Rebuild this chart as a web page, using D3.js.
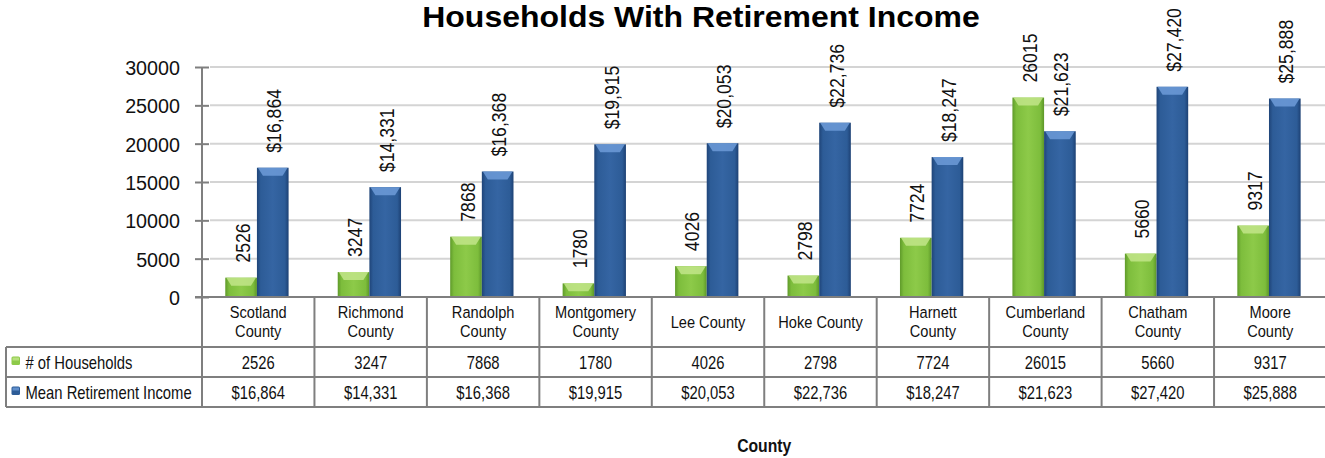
<!DOCTYPE html>
<html><head><meta charset="utf-8">
<script src="https://cdn.jsdelivr.net/npm/d3@7"></script>
<style>
html,body{margin:0;padding:0;background:#fff;}
svg{display:block;font-family:"Liberation Sans",Arial,sans-serif;}
</style></head>
<body><svg id="chart" width="1325" height="458"></svg>
<script>
const categories = ["Scotland County","Richmond County","Randolph County","Montgomery County","Lee County","Hoke County","Harnett County","Cumberland County","Chatham County","Moore County"];
const households = [2526,3247,7868,1780,4026,2798,7724,26015,5660,9317];
const meanIncome = [16864,14331,16368,19915,20053,22736,18247,21623,27420,25888];
const seriesNames = ["# of Households","Mean Retirement Income"];
const yTicks = [0,5000,10000,15000,20000,25000,30000];
const titleText = "Households With Retirement Income";
const axisTitle = "County";

const svg = d3.select("#chart");
const W = 1325, H = 458;
const pL = 202, pR = 1326.5, pT = 67, base = 297;
const rowH = [347, 377, 407];
const TS = 0.8; // horizontal condensing for table text

const defs = svg.append("defs");
function grad(id, stops){
  const g = defs.append("linearGradient").attr("id", id).attr("x1","0").attr("x2","1").attr("y1","0").attr("y2","0");
  stops.forEach(s=>g.append("stop").attr("offset",s[0]).attr("stop-color",s[1]));
}
grad("gGreen", [[0,"#5f9a2a"],[0.12,"#7dbd3c"],[0.5,"#8dca49"],[0.88,"#7dbd3c"],[1,"#5c9628"]]);
grad("gBlue", [[0,"#1f4478"],[0.12,"#2d5c97"],[0.5,"#3565a3"],[0.88,"#2d5c97"],[1,"#1d4174"]]);
const colors = {h:"url(#gGreen)", m:"url(#gBlue)"};
const capColors = {h:"#c2e58a", m:"#6d9bd8"};

const x = d3.scaleBand().domain(categories).range([pL, pR]).padding(0);
const bw = x.bandwidth();
const x1 = d3.scaleBand().domain(["h","m"]).range([bw*0.207, bw*0.77]).padding(0);
const y = d3.scaleLinear().domain([0,30000]).range([base, pT]);

// Title
svg.append("text").attr("transform","translate(701,27.3) scale(1.066,1)").attr("text-anchor","middle")
  .attr("font-size", 30).attr("font-weight","bold").attr("fill","#000").text(titleText);

// gridlines
svg.append("g").selectAll("line").data(yTicks.filter(d=>d>0)).join("line")
  .attr("x1", pL+8).attr("x2", W).attr("y1", d=>y(d)).attr("y2", d=>y(d))
  .attr("stroke","#d4d4d4").attr("stroke-width",2);

// y axis
const yAxis = d3.axisLeft(y).tickValues(yTicks).tickSize(7).tickPadding(14).tickFormat(d3.format("d"));
const ga = svg.append("g").attr("transform",`translate(${pL},0)`).call(yAxis);
ga.select(".domain").remove();
ga.selectAll(".tick line").attr("stroke","#7f7f7f").attr("stroke-width",2).attr("x2",-7).attr("x1",7);
ga.selectAll(".tick text").attr("font-size",21).attr("fill","#111").attr("font-family","inherit")
  .attr("x",0).attr("dy",null).attr("transform","translate(-22,7.5) scale(0.94,1)");
svg.append("line").attr("x1",pL).attr("x2",pL).attr("y1",pT).attr("y2",rowH[2])
  .attr("stroke","#7f7f7f").attr("stroke-width",2);

// bars
const data = categories.map((c,i)=>({c, h:households[i], m:meanIncome[i]}));
const groups = svg.append("g").selectAll("g").data(data).join("g")
  .attr("transform", d=>`translate(${x(d.c)},0)`);
["h","m"].forEach(k=>{
  const bx = x1(k), w = x1.bandwidth();
  groups.append("rect").attr("x", bx).attr("width", w)
    .attr("y", d=>y(d[k])).attr("height", d=>base - y(d[k]))
    .attr("fill", colors[k]);
  groups.append("path").attr("fill", capColors[k]).attr("opacity",0.85)
    .attr("d", d=>{ const t=y(d[k]); return `M${bx+1},${t} L${bx+w-1},${t} L${bx+w-6},${t+8} L${bx+6},${t+8} Z`; });
  groups.append("text")
    .attr("transform", d=>`translate(${bx + w/2 + 8.5},${y(d[k]) - 15}) rotate(-90) scale(0.84,1)`)
    .attr("font-size", 21).attr("fill","#111")
    .text(d=> k==="h" ? d3.format("d")(d[k]) : "$" + d3.format(",")(d[k]));
});

// zero line
svg.append("line").attr("x1",pL-7).attr("x2",W).attr("y1",base).attr("y2",base)
  .attr("stroke","#7f7f7f").attr("stroke-width",2);

// data table
const tg = svg.append("g");
const lineC = "#7f7f7f";
rowH.forEach(yy=>{
  tg.append("line").attr("x1", 6).attr("x2", W).attr("y1", yy).attr("y2", yy).attr("stroke",lineC).attr("stroke-width",2);
});
tg.append("line").attr("x1",6).attr("x2",6).attr("y1",rowH[0]).attr("y2",rowH[2]).attr("stroke",lineC).attr("stroke-width",2);
tg.selectAll(".vl").data(categories.slice(1)).join("line").attr("class","vl")
  .attr("x1", d=>x(d)).attr("x2", d=>x(d)).attr("y1", base).attr("y2", rowH[2])
  .attr("stroke",lineC).attr("stroke-width",2);

// category labels
tg.selectAll(".cat").data(categories).join("text").attr("class","cat")
  .attr("text-anchor","middle").attr("font-size",17).attr("fill","#111")
  .attr("transform", d=>`translate(${x(d)+bw/2},0) scale(0.86,1)`)
  .each(function(d){
    const t = d3.select(this);
    if (d.length > 11) {
      const i = d.lastIndexOf(" ");
      t.append("tspan").attr("x", 0).attr("y", 318).text(d.slice(0,i));
      t.append("tspan").attr("x", 0).attr("y", 337.5).text(d.slice(i+1));
    } else {
      t.append("tspan").attr("x", 0).attr("y", 328.5).text(d);
    }
  });

// rows
const rows = [{k:"h", vals:households, fmt:d3.format("d")},{k:"m", vals:meanIncome, fmt:v=>"$"+d3.format(",")(v)}];
rows.forEach((r,ri)=>{
  const cy = (rowH[ri] + rowH[ri+1])/2;
  tg.selectAll(".v"+ri).data(categories).join("text").attr("class","v"+ri)
    .attr("transform", d=>`translate(${x(d)+bw/2},${cy+6.5}) scale(${TS},1)`)
    .attr("text-anchor","middle")
    .attr("font-size",18.5).attr("fill","#111").text((d,i)=>r.fmt(r.vals[i]));
  tg.append("rect").attr("x",11.5).attr("y",cy-5.5).attr("width",8.5).attr("height",8.5)
    .attr("fill", r.k==="h" ? "#8dca49" : "#2d5c97").attr("rx",1.5);
  tg.append("rect").attr("x",12.5).attr("y",cy-4.5).attr("width",6.5).attr("height",3)
    .attr("fill", capColors[r.k]).attr("opacity",0.8);
  tg.append("text").attr("transform",`translate(25.5,${cy+6.5}) scale(${TS},1)`)
    .attr("font-size",18.5).attr("fill","#111").text(seriesNames[ri]);
});

// axis title
svg.append("text").attr("transform",`translate(${(pL+pR)/2},451.5) scale(0.83,1)`).attr("text-anchor","middle")
  .attr("font-size",19).attr("font-weight","bold").attr("fill","#111").text(axisTitle);
</script></body></html>
